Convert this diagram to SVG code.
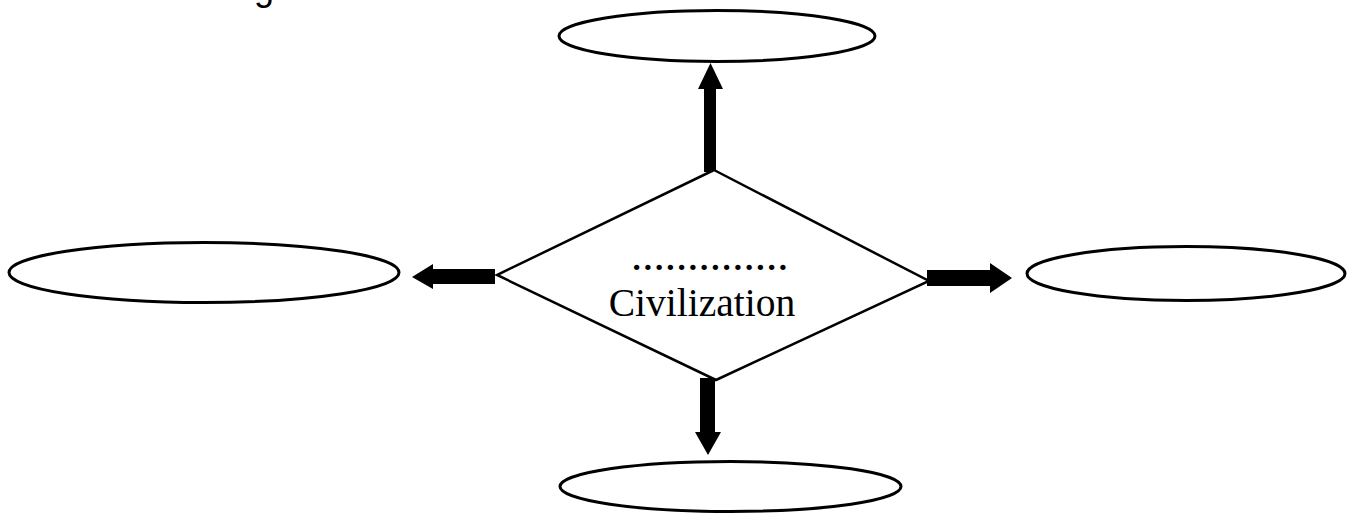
<svg xmlns="http://www.w3.org/2000/svg" width="1349" height="513" viewBox="0 0 1349 513">
  <style>
    .bubble { fill: #ffffff; stroke: #000000; stroke-width: 3; }
    .diamond { fill: #ffffff; stroke: #000000; stroke-width: 2.5; stroke-linejoin: miter; }
    .block-arrow { fill: #000000; stroke: none; }
    .serif { font-family: "Liberation Serif", "Times New Roman", serif; fill: #000000; }
    .sans { font-family: "Liberation Sans", Arial, sans-serif; fill: #000000; }
  </style>
  <rect width="1349" height="513" fill="#ffffff"/>

  <!-- heading fragment at top edge -->
  <text class="sans" x="254" y="0" font-size="36">g</text>

  <!-- block arrows leaving the central diamond -->
  <g id="connectors">
    <polygon class="block-arrow" points="704,172 704,89 698,89 710.5,63 723,89 716,89 716,172"/>
    <polygon class="block-arrow" points="495,269 433,269 433,264 412,277 433,289 433,284 495,284"/>
    <polygon class="block-arrow" points="927,270 990,270 990,263 1012,278 990,293 990,286 927,286"/>
    <polygon class="block-arrow" points="700,378 700,432 695,432 708,455 721,432 715,432 715,378"/>
  </g>

  <g id="node-center">
    <polygon class="diamond" points="714,170 929,281 716,380 497,275"/>
    <text class="serif" x="631" y="270" font-size="45">..............</text>
    <text class="serif" x="702" y="316" font-size="39.5" text-anchor="middle">Civilization</text>
  </g>

  <g id="node-top">
    <ellipse class="bubble" cx="717" cy="36" rx="158" ry="25.5"/>
  </g>

  <g id="node-left">
    <ellipse class="bubble" cx="204" cy="272.5" rx="195" ry="30" stroke-width="2.5"/>
  </g>

  <g id="node-right">
    <ellipse class="bubble" cx="1186" cy="273.5" rx="159" ry="27"/>
  </g>

  <g id="node-bottom">
    <ellipse class="bubble" cx="730.5" cy="486.5" rx="170.5" ry="25"/>
  </g>
</svg>
